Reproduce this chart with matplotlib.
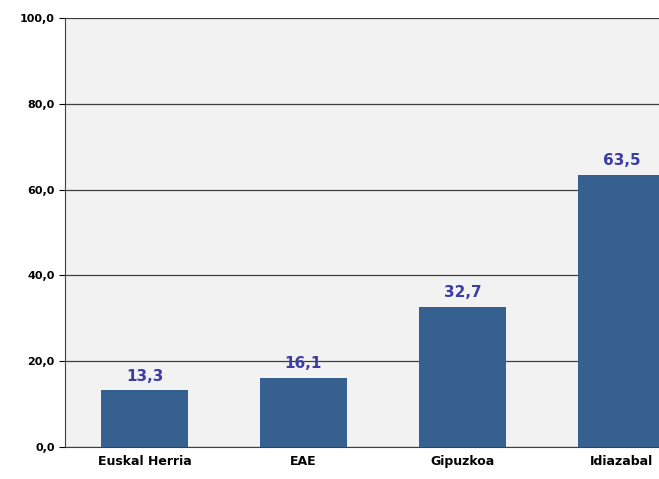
import matplotlib.pyplot as plt

categories = ["Euskal Herria", "EAE", "Gipuzkoa", "Idiazabal"]
values = [13.3, 16.1, 32.7, 63.5]
yticks = [0, 20, 40, 60, 80, 100]

W, H = 659, 479
fig = plt.figure(figsize=(W / 100, H / 100), dpi=100)
fig.patch.set_facecolor("white")
# axes spans past the right edge, last bar is cut off as in the source
ax = fig.add_axes([65 / W, 1 - 447 / H, 636 / W, (447 - 18) / H])
ax.set_facecolor("#F2F2F2")

x = range(len(categories))
ax.bar(x, values, width=0.55, color="#36608F", zorder=3)
for xi, v in zip(x, values):
    ax.text(xi, v + 1.5, f"{v:.1f}".replace(".", ","), ha="center", va="bottom",
            fontsize=11, fontweight="bold", color="#3C3CA8", zorder=4)

ax.set_xlim(-0.5, 3.5)
ax.set_ylim(0, 100)
ax.set_yticks(yticks)
ax.set_yticklabels([f"{t:.1f}".replace(".", ",") for t in yticks],
                   fontsize=8, fontweight="bold")
ax.set_xticks(list(x))
ax.set_xticklabels(categories, fontsize=9, fontweight="bold")
ax.yaxis.grid(True, color="#404040", linewidth=0.9, zorder=1)
ax.tick_params(axis="x", length=0, pad=6)
ax.tick_params(axis="y", length=4, direction="out")
for s in ["top", "right"]:
    ax.spines[s].set_visible(False)
ax.spines["left"].set_color("#404040")
ax.spines["bottom"].set_color("#404040")

fig.savefig("out.png", dpi=100)
